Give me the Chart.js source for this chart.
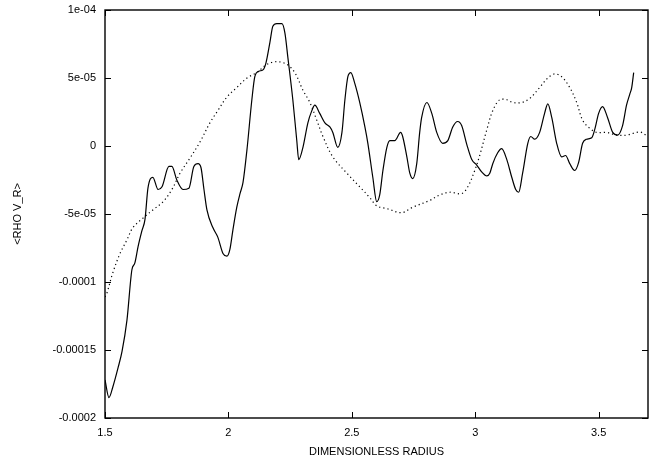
<!DOCTYPE html>
<html>
<head>
<meta charset="utf-8">
<script src="https://cdn.jsdelivr.net/npm/chart.js@4"></script>
<style>
  html, body { margin: 0; padding: 0; background: #fff; }
  #wrap { width: 659px; height: 459px; }
</style>
</head>
<body>
<div id="wrap"><canvas id="c" width="659" height="459"></canvas></div>
<script>
// values are in units of 1e-5
const SCALE = 1e-5;

const radiusSolid = [1.500, 1.516, 1.532, 1.553, 1.569, 1.589, 1.609, 1.621, 1.634, 1.650, 1.662, 1.674, 1.694, 1.715, 1.731, 1.759, 1.771, 1.791, 1.816, 1.840,
  1.860, 1.877, 1.889, 1.901, 1.913, 1.937, 1.957, 1.978, 1.994, 2.006, 2.018, 2.034, 2.047, 2.059, 2.075, 2.095, 2.107, 2.123, 2.140, 2.152,
  2.168, 2.180, 2.196, 2.217, 2.229, 2.241, 2.261, 2.277, 2.285, 2.302, 2.322, 2.338, 2.350, 2.370, 2.391, 2.411, 2.423, 2.443, 2.460, 2.472,
  2.484, 2.496, 2.512, 2.532, 2.553, 2.565, 2.585, 2.601, 2.613, 2.626, 2.642, 2.654, 2.674, 2.698, 2.706, 2.723, 2.735, 2.747, 2.763, 2.775,
  2.783, 2.804, 2.824, 2.844, 2.868, 2.889, 2.909, 2.929, 2.945, 2.966, 2.986, 3.006, 3.026, 3.047, 3.059, 3.071, 3.091, 3.107, 3.128, 3.148,
  3.164, 3.176, 3.192, 3.213, 3.225, 3.241, 3.261, 3.281, 3.294, 3.310, 3.330, 3.350, 3.366, 3.383, 3.403, 3.419, 3.435, 3.451, 3.472, 3.484,
  3.500, 3.516, 3.536, 3.557, 3.577, 3.597, 3.613, 3.626, 3.634, 3.642];
const rhoSolid = [-17.2, -18.5, -17.7, -16.3, -15.1, -12.8, -9.1, -8.6, -7.4, -6.2, -5.4, -3.1, -2.3, -3.2, -3.0, -1.5, -1.5, -2.5, -3.2, -3.1,
  -1.5, -1.3, -1.6, -3.2, -4.7, -6.0, -6.7, -7.9, -8.1, -7.6, -6.2, -4.5, -3.5, -2.7, -0.3, 3.4, 5.1, 5.5, 5.6, 6.1,
  7.6, 8.8, 9.0, 9.0, 8.3, 6.5, 3.4, 0.4, -1.0, -0.1, 1.7, 2.6, 3.0, 2.4, 1.7, 1.4, 1.0, -0.1, 1.0, 3.4,
  5.1, 5.4, 4.6, 3.2, 1.4, 0.2, -2.3, -4.1, -3.6, -1.8, -0.1, 0.4, 0.4, 1.0, 0.7, -0.8, -2.0, -2.4, -1.3, 1.0,
  2.1, 3.2, 2.4, 1.0, 0.2, 0.4, 1.4, 1.8, 1.5, 0.1, -1.0, -1.4, -1.9, -2.2, -2.0, -1.3, -0.5, -0.2, -1.0, -2.3,
  -3.2, -3.4, -2.0, 0.2, 0.7, 0.5, 1.0, 2.4, 3.1, 2.1, 0.2, -0.8, -0.7, -1.3, -1.8, -1.2, 0.2, 0.5, 0.6, 1.2,
  2.4, 2.9, 2.1, 1.0, 0.8, 1.5, 3.0, 3.8, 4.3, 5.4];

const radiusDotted = [1.500, 1.508, 1.532, 1.561, 1.589, 1.613, 1.654, 1.694, 1.735, 1.771, 1.804, 1.844, 1.885, 1.925, 1.957, 1.994, 2.034, 2.075, 2.115, 2.156,
  2.196, 2.237, 2.269, 2.302, 2.330, 2.358, 2.383, 2.423, 2.480, 2.532, 2.573, 2.601, 2.642, 2.702, 2.747, 2.816, 2.856, 2.897, 2.945, 2.970,
  2.998, 3.018, 3.047, 3.071, 3.099, 3.128, 3.152, 3.188, 3.221, 3.261, 3.294, 3.322, 3.350, 3.383, 3.411, 3.435, 3.464, 3.492, 3.532, 3.573,
  3.613, 3.654, 3.674, 3.698];
const rhoDotted = [-11.1, -10.8, -9.3, -7.9, -6.9, -6.0, -5.3, -4.7, -4.1, -3.2, -2.0, -0.9, 0.3, 1.7, 2.6, 3.6, 4.3, 5.0, 5.4, 6.0,
  6.2, 6.0, 5.4, 4.1, 3.2, 1.9, 0.7, -0.8, -2.0, -3.0, -3.8, -4.4, -4.6, -4.9, -4.5, -4.0, -3.6, -3.4, -3.5, -3.0,
  -1.8, -0.7, 1.2, 2.6, 3.4, 3.4, 3.2, 3.2, 3.5, 4.3, 5.0, 5.3, 5.1, 4.3, 3.2, 1.9, 1.3, 1.0, 1.0, 0.8,
  0.8, 1.0, 1.0, 0.7];

const xTicks = [1.5, 2, 2.5, 3, 3.5];
const xTickLabels = ['1.5', '2', '2.5', '3', '3.5'];
const yTicks = [-20, -15, -10, -5, 0, 5, 10];
const yTickLabels = ['-0.0002', '-0.00015', '-0.0001', '-5e-05', '0', '5e-05', '1e-04'];

const FONT = { family: '"Liberation Sans", Arial, sans-serif', size: 11 };

// gnuplot-like frame with ticks pointing inwards, mirrored on all sides
const frameTicks = {
    id: 'frameTicks',
    afterDatasetsDraw(chart) {
        const { ctx, chartArea: a, scales } = chart;
        const len = 6;
        ctx.save();
        ctx.strokeStyle = '#000';
        ctx.lineWidth = 1;
        ctx.beginPath();
        xTicks.forEach(v => {
            const px = Math.round(scales.x.getPixelForValue(v)) + 0.5;
            ctx.moveTo(px, a.bottom); ctx.lineTo(px, a.bottom - len);
            ctx.moveTo(px, a.top); ctx.lineTo(px, a.top + len);
        });
        yTicks.forEach(v => {
            const py = Math.round(scales.y.getPixelForValue(v)) + 0.5;
            ctx.moveTo(a.left, py); ctx.lineTo(a.left + len, py);
            ctx.moveTo(a.right, py); ctx.lineTo(a.right - len, py);
        });
        ctx.stroke();
        ctx.lineWidth = 1.4;
        ctx.strokeRect(a.left, a.top, a.right - a.left, a.bottom - a.top);
        ctx.restore();
    }
};

new Chart(document.getElementById('c'), {
    type: 'line',
    data: {
        datasets: [{
                label: 'solid',
                data: radiusSolid.map((r, i) => ({ x: r, y: rhoSolid[i] })),
                borderColor: '#000',
                borderWidth: 1.2,
                pointRadius: 0,
                cubicInterpolationMode: 'monotone'
            },
            {
                label: 'dotted',
                data: radiusDotted.map((r, i) => ({ x: r, y: rhoDotted[i] })),
                borderColor: '#000',
                borderWidth: 1.2,
                borderDash: [1.2, 3],
                pointRadius: 0,
                tension: 0.35
            }
        ]
    },
    plugins: [frameTicks],
    options: {
        responsive: false,
        animation: false,
        layout: { padding: { left: 0, right: 11, top: 10, bottom: 0 } },
        plugins: {
            legend: { display: false },
            tooltip: { enabled: false }
        },
        scales: {
            x: {
                type: 'linear',
                min: 1.5,
                max: 3.7,
                afterBuildTicks: s => { s.ticks = xTicks.map(v => ({ value: v })); },
                afterFit: s => { s.height = 41; s.paddingLeft = 0; s.paddingRight = 0; },
                grid: { display: false, drawTicks: false },
                border: { display: false },
                ticks: {
                    color: '#000',
                    font: FONT,
                    padding: 8,
                    maxRotation: 0,
                    callback: v => xTickLabels[xTicks.indexOf(v)]
                },
                title: {
                    display: true,
                    text: 'DIMENSIONLESS RADIUS',
                    color: '#000',
                    font: FONT,
                    padding: { top: 2, bottom: 0 }
                }
            },
            y: {
                min: -20,
                max: 10,
                afterBuildTicks: s => { s.ticks = yTicks.map(v => ({ value: v })); },
                afterFit: s => { s.width = 105; s.paddingTop = 0; s.paddingBottom = 0; },
                grid: { display: false, drawTicks: false },
                border: { display: false },
                ticks: {
                    color: '#000',
                    font: FONT,
                    padding: 9,
                    callback: v => yTickLabels[yTicks.indexOf(v)]
                },
                title: {
                    display: true,
                    text: '<RHO V_R>',
                    color: '#000',
                    font: FONT,
                    padding: { top: 11, bottom: 0 }
                }
            }
        }
    }
});
</script>
</body>
</html>
